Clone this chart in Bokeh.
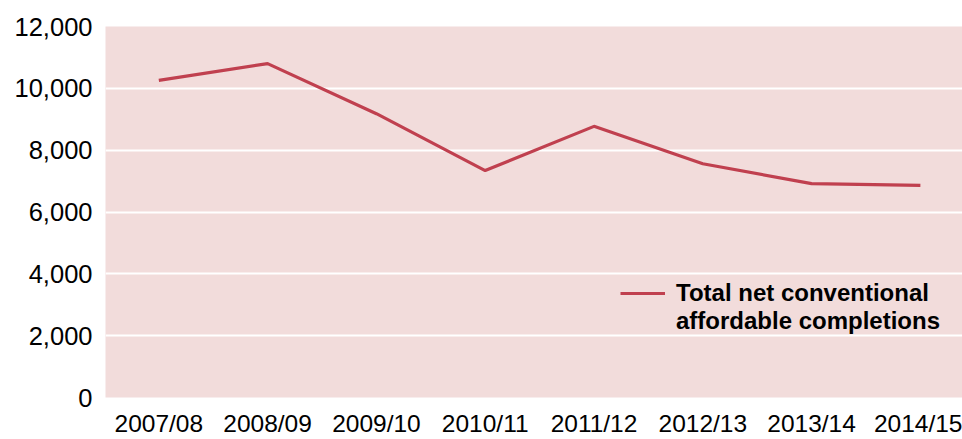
from bokeh.plotting import figure
from bokeh.models import Range1d, FixedTicker, NumeralTickFormatter, Legend, LegendItem
from bokeh.embed import file_html
from bokeh.resources import INLINE

categories = ["2007/08", "2008/09", "2009/10", "2010/11", "2011/12", "2012/13", "2013/14", "2014/15"]
completions = [10260, 10800, 9180, 7340, 8770, 7560, 6920, 6860]
y_ticks = [0, 2000, 4000, 6000, 8000, 10000, 12000]
legend_lines = ["Total net conventional", "affordable completions"]

xs = list(range(len(categories)))

p = figure(width=962, height=439, output_backend="svg", toolbar_location=None,
           x_range=Range1d(-0.49, 7.387), y_range=Range1d(0, 12000),
           min_border_left=105, min_border_right=0, min_border_top=26, min_border_bottom=38)

p.background_fill_color = "#f2dcdb"
p.border_fill_color = "white"
p.outline_line_color = None

r = p.line(xs, completions, line_color="#c0404f", line_width=3.2)
r_blank = p.line(xs, completions, line_alpha=0)

FONT = "Liberation Sans"
p.xaxis.ticker = FixedTicker(ticks=xs)
p.xaxis.major_label_overrides = {i: c for i, c in enumerate(categories)}
p.yaxis.ticker = FixedTicker(ticks=y_ticks)
p.yaxis.formatter = NumeralTickFormatter(format="0,0")
for ax in (p.xaxis, p.yaxis):
    ax.axis_line_color = None
    ax.major_tick_line_color = None
    ax.minor_tick_line_color = None
    ax.major_label_text_font = FONT
    ax.major_label_text_color = "#000000"
p.xaxis.major_label_text_font_size = "24.5px"
p.yaxis.major_label_text_font_size = "25.5px"
p.xaxis.major_label_standoff = 6
p.yaxis.major_label_standoff = 7

p.xgrid.grid_line_color = None
p.ygrid.ticker = FixedTicker(ticks=[2000, 4000, 6000, 8000, 10000])
p.ygrid.grid_line_color = "white"
p.ygrid.grid_line_width = 2

legend = Legend(items=[LegendItem(label=legend_lines[0], renderers=[r]),
                       LegendItem(label=legend_lines[1], renderers=[r_blank])],
                location=(515, 62), orientation="vertical")
legend.background_fill_alpha = 0
legend.border_line_color = None
legend.padding = 0
legend.margin = 0
legend.spacing = 0
legend.glyph_width = 45
legend.glyph_height = 20
legend.label_standoff = 11
legend.label_text_font = FONT
legend.label_text_font_size = "24px"
legend.label_text_font_style = "bold"
legend.label_text_color = "#000000"
p.add_layout(legend)

open("out.html", "w").write(file_html(p, INLINE))
